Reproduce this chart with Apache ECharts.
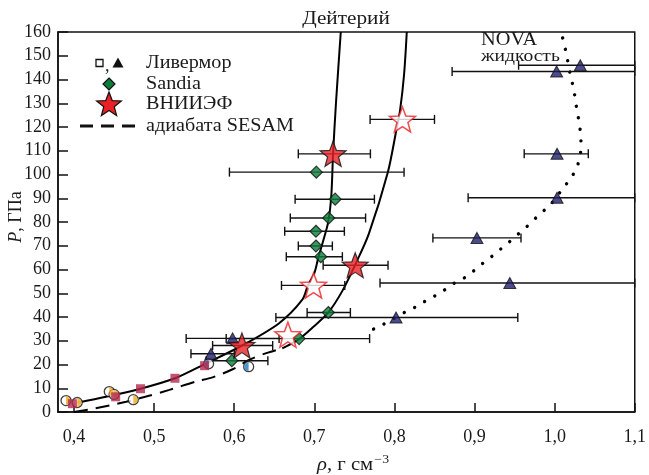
<!DOCTYPE html>
<html>
<head>
<meta charset="utf-8">
<script src="https://cdn.jsdelivr.net/npm/echarts@6/dist/echarts.min.js"></script>
<style>
  html, body { margin: 0; padding: 0; background: #fff; }
  #chart { width: 649px; height: 475px; }
</style>
</head>
<body>
<div id="chart"></div>
<script>
// точки: [rho, P, rho_min, rho_max]
const livermoreTri = [
  [1.032, 146, 0.955, 1.1],
  [1.0025, 143.4, 0.872, 1.1],
  [1.003, 108.7, 0.962, 1.042],
  [1.003, 90.2, 0.892, 1.1],
  [0.903, 73.3, 0.848, 0.958],
  [0.944, 54.3, 0.782, 1.1],
  [0.802, 39.8, 0.652, 0.954],
  [0.598, 31, 0.540, 0.656],
  [0.571, 24.5, 0.546, 0.600]
]
const sandia = [
  [0.7025, 101, 0.594, 0.812],
  [0.726, 89.6, 0.676, 0.775],
  [0.718, 81.7, 0.670, 0.764],
  [0.702, 76.1, 0.663, 0.7375],
  [0.702, 69.9, 0.680, 0.7225],
  [0.708, 65.4, 0.665, 0.735],
  [0.7175, 41.9, 0.691, 0.745],
  [0.681, 30.9, 0.590, 0.769],
  [0.597, 21.6, 0.565, 0.642]
]
const vniiefFilled = [
  [0.7234, 108.7, 0.680, 0.770],
  [0.751, 61.8, 0.711, 0.792],
  [0.6096, 28, 0.573, 0.648]
]
const vniiefOpen = [
  [0.810, 123.2, 0.7696, 0.850],
  [0.699, 53.3, 0.659, 0.738],
  [0.667, 32.5, null, null]
]
const squares = [[0.398, 3.5], [0.452, 6.4], [0.483, 9.8], [0.526, 14.2], [0.563, 19.5]]
const orangeCircles = [[0.390, 4.8], [0.404, 4.0], [0.444, 8.6], [0.450, 7.4], [0.474, 5.2]]
const blueCircles = [[0.568, 20.3], [0.618, 19.1]]

// кривые
const curveA = [[0.404, 3.9], [0.44, 6.4], [0.483, 9.8], [0.526, 14.2], [0.565, 20.5], [0.61, 28],
  [0.656, 37.4], [0.685, 47.3], [0.692, 53.3], [0.70, 58.5], [0.705, 65], [0.711, 72], [0.717, 79.5],
  [0.721, 90], [0.7234, 108.7], [0.727, 130], [0.733, 160]]
const curveB = [[0.66, 26.8], [0.681, 30.7], [0.70, 36.2], [0.7175, 41.9], [0.735, 51], [0.751, 62],
  [0.768, 75], [0.7916, 100.7], [0.802, 118], [0.807, 127], [0.812, 142], [0.8154, 160]]
const sesam = [[0.40, 0], [0.427, 1.6], [0.465, 4.3], [0.49, 6.5], [0.519, 9.3], [0.552, 12.8],
  [0.573, 14.6], [0.598, 18], [0.619, 22], [0.64, 24.8], [0.66, 26.8]]
const nova = [[0.774, 34.9], [0.7866, 37], [0.8125, 41.9], [0.825, 44], [0.8366, 46.3], [0.849, 48.6],
  [0.8613, 51.1], [0.873, 53.9], [0.8855, 56.1], [0.897, 58.9], [0.908, 62], [0.919, 64.8], [0.93, 67.9],
  [0.941, 70.9], [0.952, 74.2], [0.9625, 77.2], [0.973, 80.6], [0.983, 83.8], [0.994, 87], [1.011, 94.4],
  [1.0196, 98.2], [1.027, 102.4], [1.031, 106.8], [1.033, 111.7], [1.0325, 116.5], [1.031, 121.1],
  [1.0284, 126], [1.026, 130.9], [1.024, 135.6], [1.021, 140], [1.018, 144.6], [1.0154, 149.5],
  [1.0125, 154.1], [1.009, 158.8]]

const xTicks = { min: 0.38, max: 1.1 }
const yTicks = { min: 0, max: 160, step: 10 }

const FONT = 'Liberation Serif'
const starPath = 'path://M0,-1L0.2469,-0.3398L0.9511,-0.309L0.3995,0.1298L0.5878,0.809L0,0.42L-0.5878,0.809L-0.3995,0.1298L-0.9511,-0.309L-0.2469,-0.3398Z'
const halfRight = 'path://M-1,-1M1,1M0,-1A1,1 0 0,1 0,1Z'
const halfLeft = 'path://M-1,-1M1,1M0,-1A1,1 0 0,0 0,1Z'

function starPoints(cx, cy, R, r) {
  let pts = []
  for (let k = 0; k < 10; k++) {
    let a = (-90 + k * 36) * Math.PI / 180
    let rr = k % 2 === 0 ? R : r
    pts.push([cx + rr * Math.cos(a), cy + rr * Math.sin(a)])
  }
  return pts
}

// текст в графике (шрифт в оригинале шире, растягиваем по x)
function label(text, x, y, size, align, sx) {
  return {
    type: 'text', x: x, y: y, scaleX: sx || 1,
    style: { text: text, fill: '#1a1a1a', font: size + 'px "Liberation Serif"', textAlign: align || 'left', textVerticalAlign: 'middle' }
  }
}

//误差棒 custom series
function errorBars(data) {
  return {
    type: 'custom',
    silent: true,
    z: 3,
    data: data.filter(d => d[2] != null),
    encode: { x: [0, 2, 3], y: 1 },
    renderItem: function (params, api) {
      let y = api.value(1)
      let a = api.coord([api.value(2), y])
      let b = api.coord([api.value(3), y])
      let h = 4.5
      let st = { stroke: '#111', lineWidth: 1.4 }
      return {
        type: 'group',
        children: [
          { type: 'line', shape: { x1: a[0], y1: a[1], x2: b[0], y2: b[1] }, style: st },
          { type: 'line', shape: { x1: a[0], y1: a[1] - h, x2: a[0], y2: a[1] + h }, style: st },
          { type: 'line', shape: { x1: b[0], y1: b[1] - h, x2: b[0], y2: b[1] + h }, style: st }
        ]
      }
    }
  }
}

let myChart = echarts.init(document.getElementById('chart'))
let textCol = '#1a1a1a'
let option = {
  animation: false,
  backgroundColor: '#fff',
  grid: { left: 58, right: 13, top: 32, bottom: 63, show: true, borderColor: '#111', borderWidth: 1.5 },
  xAxis: {
    type: 'value',
    min: xTicks.min, max: xTicks.max, splitNumber: 7,
    axisLine: { lineStyle: { color: '#111', width: 1.5 } },
    axisTick: { inside: true, length: 9, lineStyle: { color: '#111', width: 1.5 } },
    splitLine: { show: false },
    axisLabel: {
      showMinLabel: false, margin: 16, color: textCol, fontFamily: FONT, fontSize: 18,
      formatter: v => v.toFixed(1).replace('.', ',')
    }
  },
  yAxis: {
    type: 'value',
    min: yTicks.min, max: yTicks.max, interval: yTicks.step,
    axisLine: { lineStyle: { color: '#111', width: 1.5 } },
    axisTick: { inside: true, length: 10, lineStyle: { color: '#111', width: 1.5 } },
    splitLine: { show: false },
    axisLabel: { margin: 7, color: textCol, fontFamily: FONT, fontSize: 18 }
  },
  graphic: [
    label('Дейтерий', 346, 19, 18, 'center', 1.18),
    label('NOVA', 481, 40, 18, 'left', 1.13),
    label('жидкость', 481, 57, 17, 'left', 1.15),
    {
      type: 'text', x: 16, y: 217, rotation: Math.PI / 2,
      style: {
        text: '{i|P}{n|, ГПа}', textAlign: 'center', textVerticalAlign: 'middle', fill: textCol,
        rich: {
          i: { fontFamily: FONT, fontSize: 18, fontStyle: 'italic', fill: textCol },
          n: { fontFamily: FONT, fontSize: 18, fill: textCol }
        }
      }
    },
    {
      type: 'text', x: 353, y: 465, scaleX: 1.15,
      style: {
        text: '{i|ρ}{n|, г см}{s|−3}', textAlign: 'center', textVerticalAlign: 'middle', fill: textCol,
        rich: {
          i: { fontFamily: FONT, fontSize: 18, fontStyle: 'italic', fill: textCol, lineHeight: 22 },
          n: { fontFamily: FONT, fontSize: 18, fill: textCol, lineHeight: 22 },
          s: { fontFamily: FONT, fontSize: 12, fill: textCol, verticalAlign: 'top', lineHeight: 22, padding: [0, 0, 10, 1] }
        }
      }
    },
    // легенда
    { type: 'rect', shape: { x: 96, y: 59.5, width: 7, height: 7 }, style: { fill: '#fff', stroke: '#111', lineWidth: 1.3 } },
    label(',', 105, 66, 18),
    { type: 'polygon', shape: { points: [[118, 57.5], [123.5, 67.5], [112.5, 67.5]] }, style: { fill: '#111' } },
    { type: 'polygon', shape: { points: [[109, 78], [115, 84], [109, 90], [103, 84]] }, style: { fill: '#0b7d3b', stroke: '#111', lineWidth: 1.2 } },
    { type: 'polygon', shape: { points: starPoints(109, 105, 13, 5.5) }, style: { fill: '#ea2027', stroke: '#111', lineWidth: 1.2 } },
    { type: 'line', shape: { x1: 80, y1: 126, x2: 137, y2: 126 }, style: { stroke: '#111', lineWidth: 3.2, lineDash: [13, 8] } },
    label('Ливермор', 146, 63, 18, 'left', 1.12),
    label('Sandia', 146, 84, 18, 'left', 1.12),
    label('ВНИИЭФ', 146, 104, 18, 'left', 1.12),
    label('адиабата SESAM', 146, 126, 18, 'left', 1.12)
  ],
  series: [
    { type: 'line', data: curveA, smooth: 0.3, showSymbol: false, silent: true, z: 2, lineStyle: { color: '#000', width: 2 } },
    { type: 'line', data: curveB, smooth: 0.3, showSymbol: false, silent: true, z: 2, lineStyle: { color: '#000', width: 2 } },
    { type: 'line', data: sesam, smooth: 0.3, showSymbol: false, silent: true, z: 2, lineStyle: { color: '#000', width: 2, type: [14, 8] } },
    { type: 'line', data: nova, smooth: 0.3, showSymbol: false, silent: true, z: 2, lineStyle: { color: '#000', width: 3.4, type: [0.01, 11.6], cap: 'round' } },
    errorBars(livermoreTri),
    errorBars(sandia),
    errorBars(vniiefFilled),
    errorBars(vniiefOpen),
    { type: 'scatter', data: orangeCircles, symbol: 'circle', symbolSize: 10, z: 4, itemStyle: { color: '#fff', borderColor: '#111', borderWidth: 1.3 } },
    { type: 'scatter', data: orangeCircles, symbol: halfRight, symbolSize: 8.5, z: 4, itemStyle: { color: '#f4a81d' } },
    { type: 'scatter', data: blueCircles, symbol: 'circle', symbolSize: 10, z: 4, itemStyle: { color: '#fff', borderColor: '#111', borderWidth: 1.3 } },
    { type: 'scatter', data: blueCircles, symbol: halfLeft, symbolSize: 8.5, z: 4, itemStyle: { color: '#1f78c1' } },
    { type: 'scatter', data: squares, symbol: 'rect', symbolSize: 9, z: 5, itemStyle: { color: '#b3294f' } },
    { type: 'scatter', data: livermoreTri, symbol: 'triangle', symbolSize: [12, 11], z: 5, itemStyle: { color: '#1e1f6b', borderColor: '#111', borderWidth: 1 } },
    { type: 'scatter', data: sandia, symbol: 'diamond', symbolSize: 12, z: 5, itemStyle: { color: '#0b7d3b', borderColor: '#111', borderWidth: 1.2 } },
    { type: 'scatter', data: vniiefOpen, symbol: starPath, symbolSize: [26, 25], z: 5, itemStyle: { color: '#fff', borderColor: '#ea2027', borderWidth: 1.5 } },
    { type: 'scatter', data: vniiefFilled, symbol: starPath, symbolSize: [26, 25], z: 6, itemStyle: { color: '#ea2027', borderColor: '#111', borderWidth: 1.2 } }
  ]
}
myChart.setOption(option)
</script>
</body>
</html>
